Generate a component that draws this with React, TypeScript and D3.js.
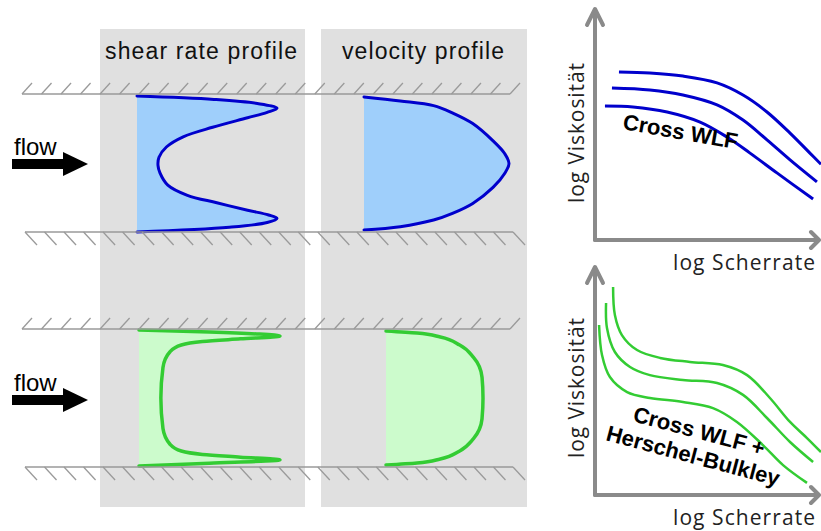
import React from "react";
import * as d3 from "d3";

const W = 821;
const H = 531;

// profiles: [position across channel (-1 top wall .. 1 bottom wall), normalized value]
const shearNewtonian: [number, number][] = [
  [-1, 0], [-0.95, 0.55], [-0.89, 0.86], [-0.82, 1.0], [-0.76, 0.93],
  [-0.68, 0.79], [-0.54, 0.54], [-0.4, 0.33], [-0.25, 0.21], [-0.1, 0.157], [0.02, 0.15],
  [0.13, 0.164], [0.31, 0.22], [0.46, 0.36], [0.57, 0.57], [0.68, 0.79], [0.75, 0.94],
  [0.8, 1.0], [0.86, 0.93], [0.93, 0.66], [1, 0],
];
const velocityNewtonian: [number, number][] = [
  [-1, 0], [-0.94, 0.25], [-0.87, 0.48], [-0.76, 0.61], [-0.6, 0.75], [-0.34, 0.89],
  [-0.15, 0.97], [0, 1], [0.15, 0.97], [0.36, 0.89], [0.6, 0.75], [0.75, 0.61],
  [0.85, 0.48], [0.95, 0.25], [1, 0],
];
const shearYield: [number, number][] = [
  [-1, 0], [-0.97, 0.5], [-0.91, 1.0], [-0.87, 0.72], [-0.83, 0.45], [-0.78, 0.3],
  [-0.68, 0.22], [-0.45, 0.17], [0, 0.155], [0.45, 0.17], [0.68, 0.22], [0.78, 0.3],
  [0.83, 0.45], [0.87, 0.72], [0.91, 1.0], [0.96, 0.5], [1, 0],
];
const velocityYield: [number, number][] = [
  [-1, 0], [-0.97, 0.32], [-0.91, 0.56], [-0.79, 0.76], [-0.61, 0.9], [-0.31, 0.99],
  [0, 1], [0.31, 0.99], [0.61, 0.9], [0.79, 0.76], [0.91, 0.56], [0.97, 0.32], [1, 0],
];

// viscosity curves: [log shear rate, log viscosity], 0..100 units
const crossWlfCurves: [number, number][][] = [
  [[10.6, 76.4], [24.3, 75.9], [38.9, 74.5], [54, 71.4], [65.5, 65.9], [76.1, 58.2], [86.3, 48.6], [95.1, 39.5], [100, 34.4]],
  [[7.5, 69.1], [24.3, 68.2], [38.9, 65.9], [54, 61.4], [65.5, 54.5], [76.1, 45.5], [86.3, 36.4], [98.2, 26.4]],
  [[4.4, 60.9], [16.8, 60.5], [31.9, 58.2], [46.5, 53.6], [58.4, 46.8], [68.6, 39.5], [80.5, 30.5], [96.5, 18.6]],
];
const hbCurves: [number, number][][] = [
  [[8, 94.5], [8.8, 81.8], [11.9, 72.7], [18.6, 65.9], [28.8, 62.3], [42, 60.5], [56.6, 59.1], [67.3, 54.5], [77.4, 44.1], [86.3, 33.2], [93.8, 25.9], [100, 19.5]],
  [[4.9, 87.3], [5.3, 75.9], [8.8, 65], [15.5, 58.2], [24.3, 54.5], [38.9, 52.3], [54, 50.9], [65.5, 45.5], [76.1, 35], [86.3, 24.1], [96.5, 15]],
  [[1.8, 77.3], [3.1, 63.6], [6.6, 53.6], [14.2, 46.8], [24.3, 44.1], [38.9, 42.3], [52.2, 39.5], [62.8, 33.2], [74.3, 22.7], [83.2, 13.6], [93.8, 5.5]],
];

const panelTitles = ["shear rate profile", "velocity profile"];
const flowLabel = "flow";
const axisX = "log Scherrate";
const axisY = "log Viskosität";

const BLUE = "#0000cc";
const BLUE_FILL = "#9fcffb";
const GREEN = "#33cc33";
const GREEN_FILL = "#ccfbcc";
const WALL = "#9a9a9a";
const AXIS = "#8a8a8a";
const SANS = "'Liberation Sans', Arial, sans-serif";
const LABEL = "'Open Sans', sans-serif";

const Wall = ({ y, up }: { y: number; up: boolean }) => {
  const x0 = up ? 22 : 25;
  const x1 = up ? 510 : 513;
  const n = 26;
  const step = (x1 - x0) / (n - 1);
  return (
    <g stroke={WALL} fill="none">
      <line x1={x0} x2={x1} y1={y} y2={y} strokeWidth={1.6} />
      {d3.range(n).map((i) => {
        const x = x0 + i * step;
        return up ? (
          <line key={i} x1={x} y1={y} x2={x + 10} y2={y - 11} strokeWidth={1.3} />
        ) : (
          <line key={i} x1={x} y1={y} x2={x + 12} y2={y + 13} strokeWidth={1.3} />
        );
      })}
    </g>
  );
};

const Profile = ({ data, y0, y1, x0, x1, stroke, fill, sw, curve }: {
  data: [number, number][]; y0: number; y1: number; x0: number; x1: number;
  stroke: string; fill: string; sw: number; curve: d3.CurveFactory;
}) => {
  const ty = d3.scaleLinear().domain([-1, 1]).range([y0, y1]);
  const vx = d3.scaleLinear().domain([0, 1]).range([x0, x1]);
  const area = d3.area<[number, number]>()
    .y((d) => ty(d[0])).x0(x0).x1((d) => vx(d[1]))
    .curve(curve);
  const line = d3.line<[number, number]>()
    .x((d) => vx(d[1])).y((d) => ty(d[0]))
    .curve(curve);
  return (
    <g>
      <path d={area(data) || ""} fill={fill} />
      <path d={line(data) || ""} fill="none" stroke={stroke} strokeWidth={sw} strokeLinecap="round" />
    </g>
  );
};

const FlowArrow = ({ cy }: { cy: number }) => (
  <g>
    <text x={14} y={cy - 9} fontFamily={SANS} fontSize={24} fill="#000">{flowLabel}</text>
    <rect x={12} y={cy - 5} width={52} height={10} fill="#000" />
    <path d={`M63,${cy - 12}L88,${cy}L63,${cy + 12}Z`} fill="#000" />
  </g>
);

const ViscChart = ({ curves, yBase, tipY, color, sw }: {
  curves: [number, number][][]; yBase: number; tipY: number; color: string; sw: number;
}) => {
  const x = d3.scaleLinear().domain([0, 100]).range([595, 821]);
  const y = d3.scaleLinear().domain([0, 100]).range([yBase, yBase - 220]);
  const line = d3.line<[number, number]>()
    .x((d) => x(d[0])).y((d) => y(d[1]))
    .curve(d3.curveCatmullRom);
  return (
    <g>
      {curves.map((c, i) => (
        <path key={i} d={line(c) || ""} fill="none" stroke={color} strokeWidth={sw} />
      ))}
      <g stroke={AXIS} strokeWidth={4} fill="none" strokeLinecap="round" strokeLinejoin="round">
        <line x1={595} y1={yBase} x2={595} y2={tipY + 2} />
        <path d={`M587,${tipY + 16}L595,${tipY}L603,${tipY + 16}`} />
        <line x1={595} y1={yBase} x2={818} y2={yBase} />
        <path d={`M811,${yBase - 8}L819,${yBase}L811,${yBase + 8}`} />
      </g>
      <text transform={`translate(584,${yBase - 107}) rotate(-90)`} textAnchor="middle"
        fontFamily={LABEL} fontSize={21} textLength={140} fill="#222">{axisY}</text>
      <text x={815} y={yBase + 30} textAnchor="end" fontFamily={LABEL} fontSize={21}
        textLength={142} fill="#222">{axisX}</text>
    </g>
  );
};

export default function App() {
  const smooth = d3.curveCatmullRom.alpha(0.5);
  return (
    <svg width={W} height={H} style={{ position: "absolute", left: 0, top: 0, background: "#fff" }}>
      {/* gray panels */}
      <rect x={100} y={29} width={205} height={478} fill="#e0e0e0" />
      <rect x={321} y={29} width={206} height={478} fill="#e0e0e0" />
      <text x={201} y={59} textAnchor="middle" fontFamily={SANS} fontSize={23} textLength={192} fill="#111">{panelTitles[0]}</text>
      <text x={423} y={59} textAnchor="middle" fontFamily={SANS} fontSize={23} textLength={162} fill="#111">{panelTitles[1]}</text>

      {/* Newtonian-like channel */}
      <Profile data={shearNewtonian} y0={96} y1={232} x0={137} x1={277} stroke={BLUE} fill={BLUE_FILL} sw={3} curve={smooth} />
      <Profile data={velocityNewtonian} y0={97} y1={230} x0={364} x1={509} stroke={BLUE} fill={BLUE_FILL} sw={3} curve={smooth} />
      <Wall y={94} up={true} />
      <Wall y={232} up={false} />
      <FlowArrow cy={164} />

      {/* yield-stress channel */}
      <Profile data={shearYield} y0={330} y1={466} x0={139} x1={280} stroke={GREEN} fill={GREEN_FILL} sw={3.5} curve={d3.curveMonotoneY} />
      <Profile data={velocityYield} y0={331} y1={465} x0={386} x1={483} stroke={GREEN} fill={GREEN_FILL} sw={3.5} curve={d3.curveMonotoneY} />
      <Wall y={329} up={true} />
      <Wall y={467} up={false} />
      <FlowArrow cy={400} />

      {/* viscosity charts */}
      <ViscChart curves={crossWlfCurves} yBase={240} tipY={9} color={BLUE} sw={3} />
      <text transform="translate(622,129) rotate(10)" fontFamily={SANS} fontWeight="bold" fontSize={22} fill="#000">Cross WLF</text>
      <ViscChart curves={hbCurves} yBase={495} tipY={267} color={GREEN} sw={2.5} />
      <text transform="translate(632,421) rotate(15)" fontFamily={SANS} fontWeight="bold" fontSize={22} fill="#000">Cross WLF +</text>
      <text transform="translate(605,440) rotate(15)" fontFamily={SANS} fontWeight="bold" fontSize={22} fill="#000">Herschel-Bulkley</text>
    </svg>
  );
}
